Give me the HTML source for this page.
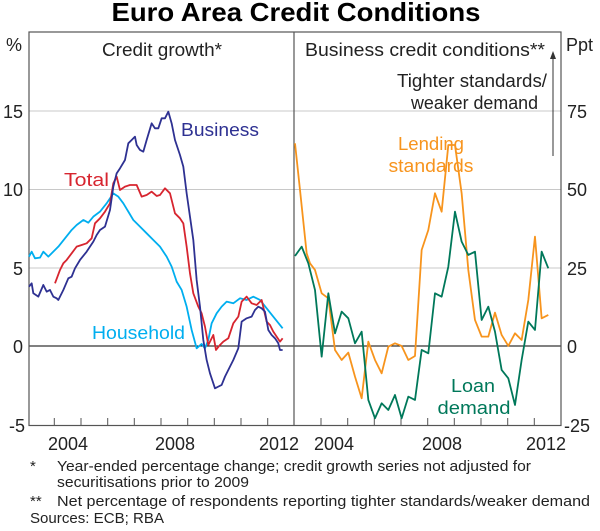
<!DOCTYPE html>
<html><head><meta charset="utf-8"><style>
body{margin:0;background:#fff;}
svg{display:block;font-family:"Liberation Sans",Arial,sans-serif;}
</style></head><body>
<svg width="600" height="531" viewBox="0 0 600 531" xmlns="http://www.w3.org/2000/svg">
<text x="296" y="21" text-anchor="middle" font-size="26" font-weight="bold" fill="#000" textLength="369" lengthAdjust="spacingAndGlyphs">Euro Area Credit Conditions</text>
<g stroke="#c8c8c8" stroke-width="1">
<line x1="29" y1="111" x2="561" y2="111"/><line x1="29" y1="189.5" x2="561" y2="189.5"/><line x1="29" y1="268" x2="561" y2="268"/>
</g>
<line x1="29" y1="346" x2="561" y2="346" stroke="#000" stroke-width="1"/>
<rect x="29" y="32" width="532" height="393.5" fill="none" stroke="#555" stroke-width="1.2"/>
<line x1="294" y1="32" x2="294" y2="425.5" stroke="#555" stroke-width="1.2"/>
<g stroke="#555" stroke-width="1">
<line x1="54.3" y1="425" x2="54.3" y2="418"/><line x1="81" y1="425" x2="81" y2="418"/><line x1="107.7" y1="425" x2="107.7" y2="418"/><line x1="134.3" y1="425" x2="134.3" y2="418"/><line x1="161" y1="425" x2="161" y2="418"/><line x1="187.7" y1="425" x2="187.7" y2="418"/><line x1="214.3" y1="425" x2="214.3" y2="418"/><line x1="241" y1="425" x2="241" y2="418"/><line x1="267.7" y1="425" x2="267.7" y2="418"/>
<line x1="321" y1="425" x2="321" y2="418"/><line x1="347.7" y1="425" x2="347.7" y2="418"/><line x1="374.3" y1="425" x2="374.3" y2="418"/><line x1="401" y1="425" x2="401" y2="418"/><line x1="427.7" y1="425" x2="427.7" y2="418"/><line x1="454.3" y1="425" x2="454.3" y2="418"/><line x1="481" y1="425" x2="481" y2="418"/><line x1="507.7" y1="425" x2="507.7" y2="418"/><line x1="534.3" y1="425" x2="534.3" y2="418"/>
</g>
<g font-size="18" fill="#222">
<text x="22" y="51" text-anchor="end">%</text>
<text x="23" y="118" text-anchor="end">15</text><text x="23" y="196" text-anchor="end">10</text><text x="23" y="275" text-anchor="end">5</text><text x="23" y="353" text-anchor="end">0</text><text x="25" y="432" text-anchor="end">-5</text>
<text x="566" y="51">Ppt</text>
<text x="567" y="118">75</text><text x="567" y="196">50</text><text x="567" y="275">25</text><text x="567" y="353">0</text><text x="564" y="432">-25</text>
<text x="68" y="450" text-anchor="middle">2004</text><text x="175" y="450" text-anchor="middle">2008</text><text x="279" y="450" text-anchor="middle">2012</text>
<text x="334" y="450" text-anchor="middle">2004</text><text x="442" y="450" text-anchor="middle">2008</text><text x="546" y="450" text-anchor="middle">2012</text>
<text x="162" y="56" text-anchor="middle" textLength="120" lengthAdjust="spacingAndGlyphs">Credit growth*</text>
<text x="425" y="56" text-anchor="middle" textLength="240" lengthAdjust="spacingAndGlyphs">Business credit conditions**</text>
<text x="547" y="87" text-anchor="end" textLength="150" lengthAdjust="spacingAndGlyphs">Tighter standards/</text>
<text x="538" y="109" text-anchor="end" textLength="127" lengthAdjust="spacingAndGlyphs">weaker demand</text>
<text x="181" y="136" fill="#2e3192" textLength="78" lengthAdjust="spacingAndGlyphs">Business</text>
<text x="64" y="186" fill="#d7252f" textLength="45" lengthAdjust="spacingAndGlyphs">Total</text>
<text x="92" y="339" fill="#00aeef" textLength="93" lengthAdjust="spacingAndGlyphs">Household</text>
<text x="431" y="150" text-anchor="middle" fill="#f7941d" textLength="66" lengthAdjust="spacingAndGlyphs">Lending</text>
<text x="431" y="172" text-anchor="middle" fill="#f7941d" textLength="85" lengthAdjust="spacingAndGlyphs">standards</text>
<text x="473" y="392" text-anchor="middle" fill="#00785a" textLength="44" lengthAdjust="spacingAndGlyphs">Loan</text>
<text x="474" y="414" text-anchor="middle" fill="#00785a" textLength="73" lengthAdjust="spacingAndGlyphs">demand</text>
</g>
<line x1="553" y1="156" x2="553" y2="58" stroke="#333" stroke-width="1"/>
<polygon points="553,51 550,59 556,59" fill="#333"/>
<g fill="none" stroke-linejoin="round">
<polyline stroke="#00aeef" transform="translate(0,30) scale(0.3333)" stroke-width="5.4" points="87,680 95,665 105,685 120,683 130,665 145,680 160,665 175,650 195,625 215,600 230,585 250,570 265,578 280,560 300,545 320,520 340,490 355,500 370,520 385,545 400,570 420,590 440,610 460,630 480,650 500,680 515,710 530,755 545,780 560,830 575,900 590,955 605,942 615,955 625,930 635,880 650,850 665,830 680,815 700,820 720,805 740,810 760,800 780,810 800,835 820,860 848,895"/>
<polyline stroke="#d7252f" transform="translate(0,30) scale(0.3333)" stroke-width="5.4" points="165,760 180,720 190,700 200,690 215,670 230,650 245,645 260,640 275,625 285,580 300,565 315,545 330,520 340,460 350,440 360,480 375,470 390,465 410,465 425,500 440,495 455,485 470,498 480,495 495,475 510,490 525,550 540,565 550,580 560,650 570,730 580,790 595,830 605,850 615,890 625,945 640,915 648,960 660,945 670,935 685,925 700,880 715,860 725,815 740,800 755,820 770,825 785,810 800,875 810,885 820,905 830,920 840,935 848,925"/>
<polyline stroke="#2e3192" transform="translate(0,30) scale(0.3333)" stroke-width="5.4" points="87,770 95,760 100,790 115,800 130,765 140,785 150,780 160,800 170,805 175,810 190,780 205,745 215,740 225,715 240,690 260,665 280,635 290,615 300,600 315,590 330,540 340,470 350,430 360,415 375,390 385,340 395,330 405,320 410,345 420,360 430,365 440,330 455,280 465,295 475,295 485,265 495,265 505,245 515,280 525,330 540,375 550,410 560,490 570,560 580,630 590,750 600,830 610,930 620,990 630,1030 645,1075 655,1070 665,1065 675,1040 690,1010 700,990 715,955 725,875 740,865 755,860 765,840 775,830 785,835 795,845 805,900 815,915 825,925 835,940 840,960 848,960"/>
<polyline stroke="#f7941d" transform="translate(290,30) scale(0.3333)" stroke-width="5.4" points="15,340 30,480 50,670 60,700 75,720 95,790 115,805 135,960 155,990 175,968 195,1040 215,1105 235,935 255,990 275,1030 295,950 315,940 335,948 355,990 375,978 395,660 415,600 435,490 455,545 475,345 495,345 515,490 535,720 555,870 575,920 595,920 615,848 635,915 655,948 675,910 695,930 715,810 735,620 755,865 775,855"/>
<polyline stroke="#00785a" transform="translate(290,30) scale(0.3333)" stroke-width="5.4" points="15,678 35,650 55,700 75,780 95,980 115,790 135,910 155,845 175,865 195,940 215,905 235,1110 255,1165 275,1120 295,1140 315,1095 335,1165 355,1100 375,1110 395,960 415,970 435,790 455,800 475,710 495,545 515,635 535,675 555,665 575,870 595,830 615,905 635,1020 655,1045 675,1125 695,990 715,875 735,900 755,665 775,715"/>
</g>
<g font-size="15" fill="#222">
<text x="30" y="471">*</text><text x="57" y="471" textLength="474" lengthAdjust="spacingAndGlyphs">Year-ended percentage change; credit growth series not adjusted for</text>
<text x="57" y="487" textLength="192" lengthAdjust="spacingAndGlyphs">securitisations prior to 2009</text>
<text x="30" y="506">**</text><text x="57" y="506" textLength="533" lengthAdjust="spacingAndGlyphs">Net percentage of respondents reporting tighter standards/weaker demand</text>
<text x="30" y="523" textLength="134" lengthAdjust="spacingAndGlyphs">Sources: ECB; RBA</text>
</g>
</svg>
</body></html>
